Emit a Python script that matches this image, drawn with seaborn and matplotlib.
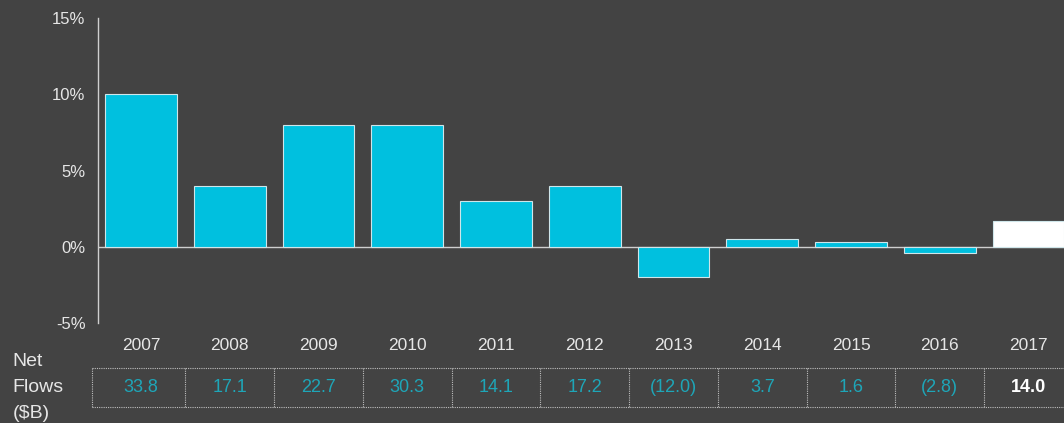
import numpy as np
import matplotlib.pyplot as plt
import seaborn as sns
import pandas as pd

sns.set_style("dark")
plt.rcParams['font.family'] = ['Liberation Sans', 'DejaVu Sans']

# donnees
years = ["2007", "2008", "2009", "2010", "2011", "2012", "2013", "2014", "2015", "2016", "2017"]
pct_change = [10.0, 4.0, 8.0, 8.0, 3.0, 4.0, -2.0, 0.5, 0.3, -0.4, 1.7]
net_flows = ["33.8", "17.1", "22.7", "30.3", "14.1", "17.2", "(12.0)", "3.7", "1.6", "(2.8)", "14.0"]
highlight = "2017"

bg = "#434343"
cyan = "#00c0df"
txt = "#e6e6e6"
flow_col = "#1ea6b8"

df = pd.DataFrame({"Year": years, "Change": pct_change})
colors = {y: ("#ffffff" if y == highlight else cyan) for y in years}

fig = plt.figure(figsize=(10.64, 4.23), dpi=100, facecolor=bg)
ax = fig.add_axes([0.0921, 0.2364, 0.9079, 0.721])
ax.set_facecolor(bg)

sns.barplot(data=df, x="Year", y="Change", hue="Year", palette=colors,
            legend=False, width=0.81, edgecolor="#cfe6ea", linewidth=0.8,
            saturation=1, ax=ax)

ax.set_ylim(-5, 15)
ax.set_xlim(-0.485, 10.4)
ax.set_yticks([-5, 0, 5, 10, 15])
ax.set_yticklabels(["-5%", "0%", "5%", "10%", "15%"])
ax.set_xlabel("")
ax.set_ylabel("")
ax.tick_params(axis="both", length=0, colors=txt)
ax.tick_params(axis="x", pad=11, labelsize=12.5)
ax.tick_params(axis="y", pad=9, labelsize=12)
ax.grid(False)
for s in ["top", "right", "bottom"]:
    ax.spines[s].set_visible(False)
ax.spines["left"].set_color("#cfcfcf")
ax.spines["left"].set_linewidth(1)
ax.axhline(0, color="#cfcfcf", linewidth=1, zorder=0)

# ligne "Net Flows"
trans = ax.get_xaxis_transform()
y_top, y_bot, y_txt = -0.1475, -0.275, -0.21
left, right = -0.55, 10.5
ax.plot([left, right], [y_top, y_top], transform=trans, color="#bdbdbd",
        linewidth=0.8, linestyle=(0, (1, 1)), clip_on=False)
ax.plot([left, right], [y_bot, y_bot], transform=trans, color="#bdbdbd",
        linewidth=0.8, linestyle=(0, (1, 1)), clip_on=False)
for x in [left] + [i + 0.5 for i in range(len(years) - 1)]:
    ax.plot([x, x], [y_top, y_bot], transform=trans, color="#bdbdbd",
            linewidth=0.8, linestyle=(0, (1, 1)), clip_on=False)
for i, (y, v) in enumerate(zip(years, net_flows)):
    if y == highlight:
        ax.text(i, y_txt, v, transform=trans, ha="center", va="center",
                fontsize=13, color="#ffffff", fontweight="bold")
    else:
        ax.text(i, y_txt, v, transform=trans, ha="center", va="center",
                fontsize=13, color=flow_col)

fig.text(0.012, 1 - 361 / 423, "Net", color=txt, fontsize=14, va="center")
fig.text(0.012, 1 - 387 / 423, "Flows", color=txt, fontsize=14, va="center")
fig.text(0.012, 1 - 413 / 423, "($B)", color=txt, fontsize=14, va="center")

fig.savefig("out.png", dpi=100, facecolor=bg)
